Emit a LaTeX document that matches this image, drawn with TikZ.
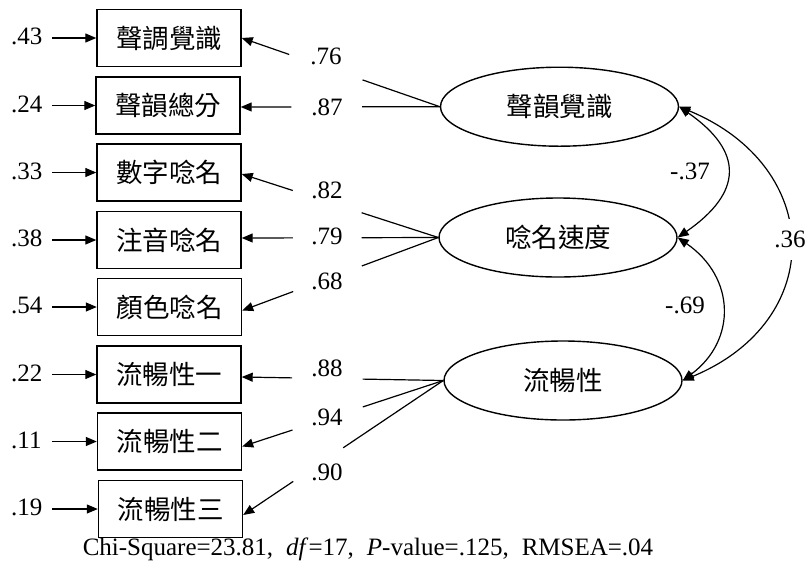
\documentclass[tikz,border=0pt]{standalone}
\usepackage{fontspec}
\setmainfont{Liberation Serif}
\newfontfamily\cjk{Noto Sans CJK TC}
\usetikzlibrary{arrows.meta,shapes.geometric,calc}

\begin{document}
\begin{tikzpicture}[x=1pt,y=-1pt,
  font=\fontsize{25}{29}\selectfont,
  ln/.style={line width=1.2pt},
  arr/.style={-{Triangle[length=11pt,width=9pt]}},
  corr/.style={{Triangle[length=11pt,width=9pt]}-{Triangle[length=11pt,width=9pt]}},
  obs/.style={draw, line width=1.4pt, minimum width=144pt, minimum height=57pt,
    inner sep=0pt, font=\cjk\fontsize{26.5}{30}\selectfont},
  lat/.style={draw, ellipse, line width=1.4pt, minimum width=238pt,
    minimum height=79pt, inner sep=0pt, font=\cjk\fontsize{26.5}{30}\selectfont},
  err/.style={anchor=west, inner sep=0pt, text width=33pt, align=left},
  coef/.style={inner sep=0pt},
]
\useasboundingbox (0,0) rectangle (810,571);

% observed indicators
\node[obs] (B1) at (169,38)    {聲調覺識};
\node[obs] (B2) at (168,105.5) {聲韻總分};
\node[obs] (B3) at (169,172.5) {數字唸名};
\node[obs] (B4) at (169,240)   {注音唸名};
\node[obs] (B5) at (169.5,307) {顏色唸名};
\node[obs] (B6) at (169,374.5) {流暢性一};
\node[obs] (B7) at (169.5,441.5) {流暢性二};
\node[obs] (B8) at (170.5,509) {流暢性三};

% latent factors
\node[lat] (L1) at (559.5,106.7) {聲韻覺識};
\node[lat] (L2) at (558,237.5)   {唸名速度};
\node[lat] (L3) at (563,380.5)   {流暢性};

% error variances
\foreach \i/\v in {1/.43,2/.24,3/.33,4/.38,5/.54,6/.22,7/.11,8/.19}{
  \node[err] (e\i) at ($(11,-1.5)+(0,0|-B\i.west)$) {\v};
  \draw[ln,arr,shorten <=8pt] (e\i.east |- B\i.west) -- (B\i.west);
}

% factor loadings: line from factor, gap for the coefficient, arrow into indicator
\foreach \l/\b/\s/\t/\dy in {L1/B1/0.39/0.76/0, L1/B2/0.39/0.745/1.5,
    L2/B3/0.39/0.74/1.5, L2/B4/0.39/0.74/-2, L2/B5/0.39/0.74/3.5,
    L3/B6/0.40/0.75/2.5, L3/B7/0.40/0.75/5, L3/B8/0.50/0.75/6}{
  \coordinate (q) at ($(\b.east)+(0,\dy)$);
  \draw[ln] (\l.west) -- ($(\l.west)!\s!(q)$);
  \draw[ln,arr] ($(\l.west)!\t!(q)$) -- (q);
}

\node[coef] (c1) at (326,56.5)  {.76};
\node[coef] (c2) at (327,107)   {.87};
\node[coef] (c3) at (327,190)   {.82};
\node[coef] (c4) at (327,236.5) {.79};
\node[coef] (c5) at (327,281.5) {.68};
\node[coef] (c6) at (327,368.5) {.88};
\node[coef] (c7) at (327,417.5) {.94};
\node[coef] (c8) at (327,472.5) {.90};

% factor correlations
\draw[ln,corr] (L1.east) .. controls +(65,45) and +(65,-45) .. (L2.east);
\draw[ln,corr] (L2.east) .. controls +(58,40) and +(54,-40) .. (L3.east);
\draw[ln,corr] (L1.east) .. controls +(145,60) and +(145,-60) .. (L3.east);
\node[fill=white, inner xsep=2pt, inner ysep=12pt] (r13) at (790,239.5) {.36};
\node[coef] (r12) at (690,171) {-.37};
\node[coef] (r23) at (685,305) {-.69};

% fit statistics
\node[coef] (fit) at (368,549) {Chi-Square=23.81,\hspace{13pt}\textit{df}=17,\hspace{13pt}\textit{P}-value=.125,\hspace{13pt}RMSEA=.04};
\end{tikzpicture}
\end{document}
